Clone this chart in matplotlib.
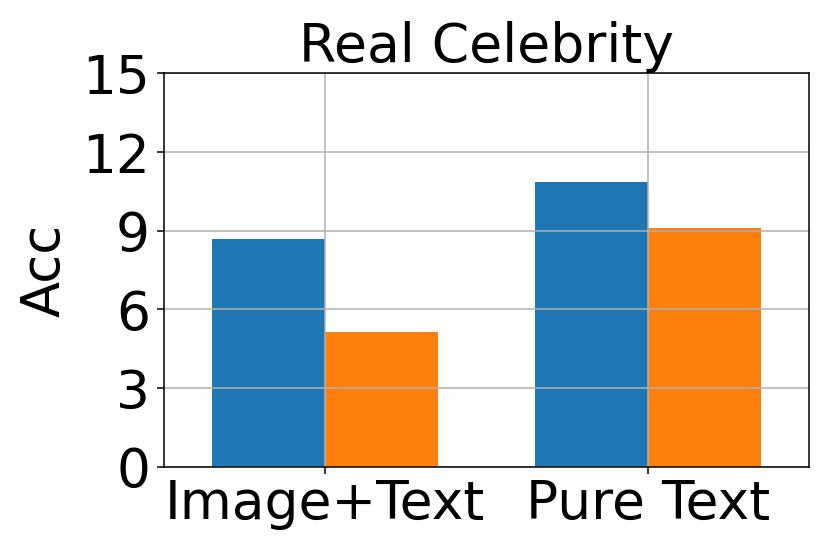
import numpy as np
import matplotlib
matplotlib.use('Agg')
import matplotlib.pyplot as plt

categories = ['Image+Text', 'Pure Text']
series_a = [8.68, 10.87]
series_b = [5.15, 9.09]
yticks = [0, 3, 6, 9, 12, 15]

x = np.arange(len(categories))
width = 0.35

fig = plt.figure(figsize=(8.3, 5.54), dpi=100)
ax = fig.add_axes([0.197, 0.1576, 0.778, 0.710])

ax.bar(x - width / 2, series_a, width, color='#1f77b4')
ax.bar(x + width / 2, series_b, width, color='#ff7f0e')

ax.set_xlim(-0.5, 1.5)
ax.set_ylim(0, 15)
ax.set_yticks(yticks)
ax.set_xticks(x)
ax.set_xticklabels(categories)
ax.tick_params(labelsize=38.4, length=4.8, width=1.1)
ax.tick_params(axis='y', pad=5)
ax.tick_params(axis='x', pad=3)
for s in ax.spines.values():
    s.set_linewidth(1.1)
ax.set_ylabel('Acc', fontsize=38, labelpad=8)
ax.set_title('Real Celebrity', fontsize=38.6)
ax.grid(True, linewidth=1.1)

fig.savefig('out.png', dpi=100)
